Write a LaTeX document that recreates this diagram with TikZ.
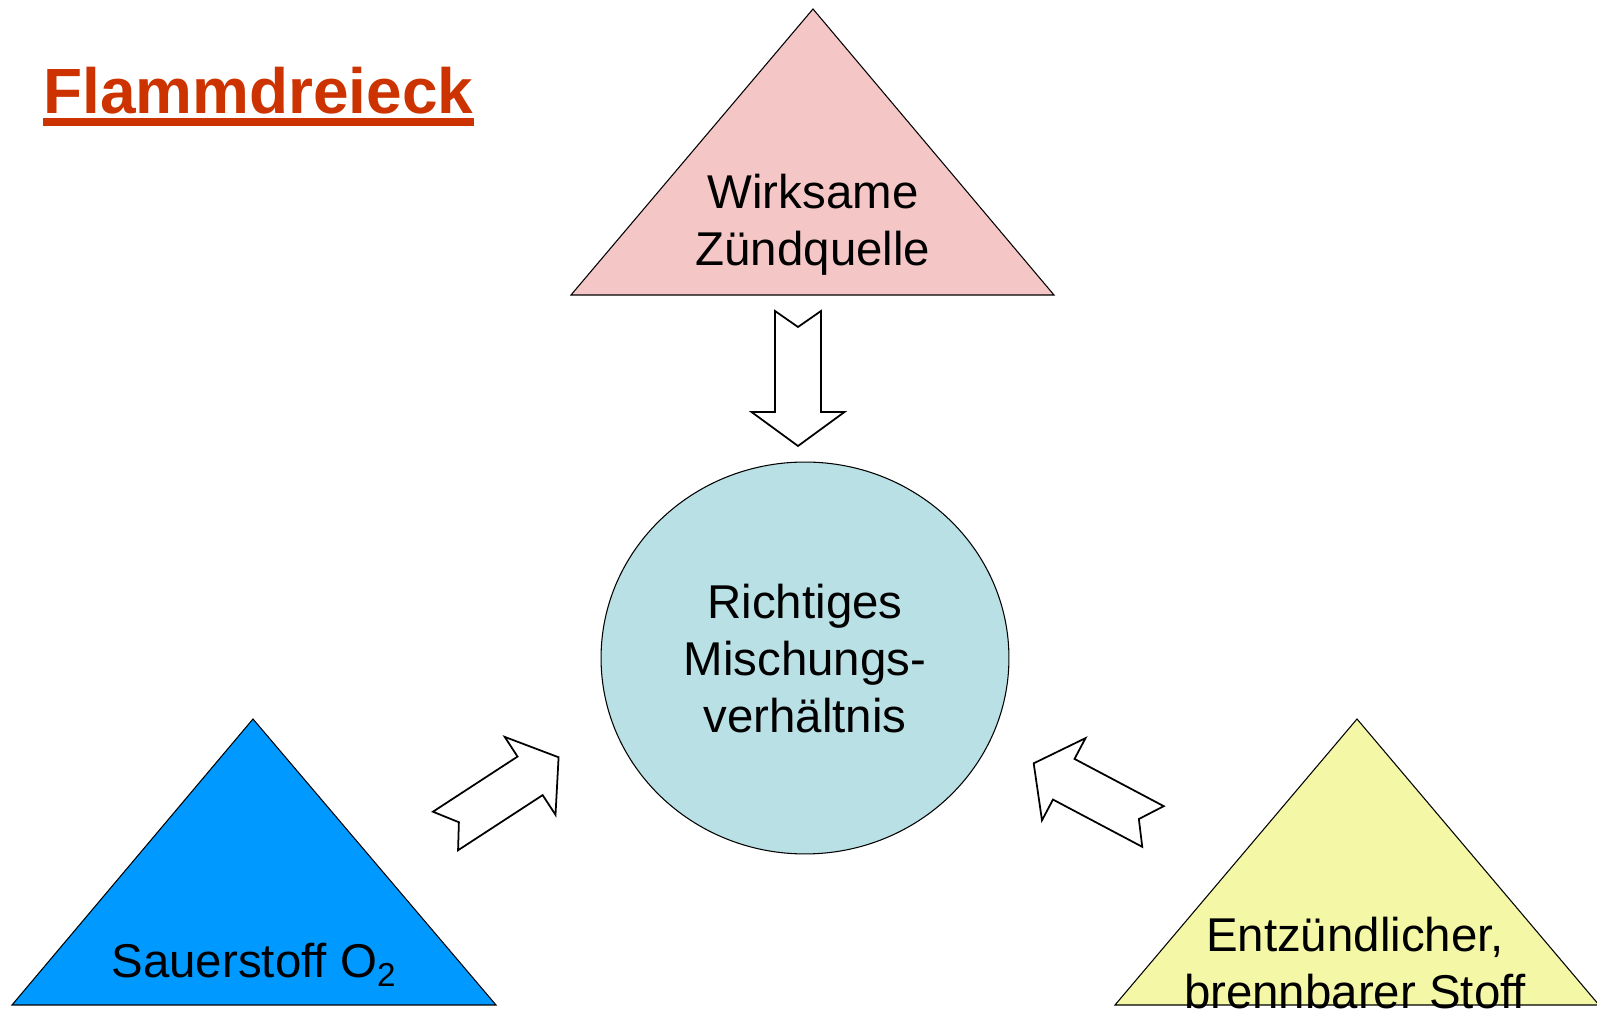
\documentclass[tikz,border=0pt]{standalone}
\usepackage{fontspec}
\setmainfont{Liberation Sans}
\usetikzlibrary{shapes.geometric,calc}

\definecolor{titlered}{RGB}{204,51,0}
\definecolor{zuendrosa}{RGB}{245,198,198}
\definecolor{sauerblau}{RGB}{0,153,255}
\definecolor{stoffgelb}{RGB}{243,247,166}
\definecolor{mischtuerkis}{RGB}{185,224,228}

\tikzset{
  dreieck/.style={draw, line width=0.6pt, line join=miter},
  beschrift/.style={font=\fontsize{27}{32.6}\selectfont, align=center, inner sep=0pt},
  pfeilkoerper/.style={draw, fill=white, line width=1pt, line join=miter},
  blockpfeil/.pic={
    \path[pfeilkoerper] (0,23) -- (101,23) -- (101,46.5) -- (135,0)
      -- (101,-46.5) -- (101,-23) -- (0,-23) -- (16,0) -- cycle;
  }
}

\begin{document}
\begin{tikzpicture}[x=0.02cm, y=0.02cm]
\useasboundingbox (0,0) rectangle (1597,1011);

% Titel
\node[anchor=base west, inner sep=0pt, text=titlered,
      font=\fontsize{36.4}{43}\selectfont\bfseries] (titel) at (43,897) {Flammdreieck};
\draw[titlered, line width=4pt] ($(titel.base west)+(0,-8)$) -- ($(titel.base east)+(0,-8)$);

% Dreiecke
\coordinate (zspitze) at (813,1002);
\coordinate (sspitze) at (253,292);
\coordinate (bspitze) at (1357,292);
\draw[dreieck, fill=zuendrosa] (zspitze) -- ++(241,-286) -- ++(-483,0) -- cycle;
\draw[dreieck, fill=sauerblau] (sspitze) -- ++(243,-286) -- ++(-484,0) -- cycle;
\draw[dreieck, fill=stoffgelb] (bspitze) -- ++(242,-286) -- ++(-484,0) -- cycle;

% Beschriftungen (base = letzte Zeile)
\node[beschrift, anchor=base] (zuend) at (813,745) {Wirksame\\Zündquelle};
\node[beschrift, anchor=base] (sauer) at (254,33) {Sauerstoff O\textsubscript{2}};
\node[beschrift, anchor=base] (stoff) at (1355,2.5) {Entzündlicher,\\brennbarer Stoff};

% Mitte
\node[ellipse, draw, line width=0.6pt, fill=mischtuerkis, minimum width=8.16cm,
      minimum height=7.84cm, inner sep=0pt] (misch) at (805,353) {};
\node[beschrift, anchor=base] (mischtext) at (805,278) {Richtiges\\Mischungs-\\verhältnis};

% Pfeile
\coordinate (pz) at (798,700);
\coordinate (ps) at (445.5,180);
\coordinate (pb) at (1153,184.5);
\pic[rotate=-90] at (pz) {blockpfeil};
\pic[rotate=33.1] at (ps) {blockpfeil};
\pic[rotate=152.1] at (pb) {blockpfeil};

\end{tikzpicture}
\end{document}
